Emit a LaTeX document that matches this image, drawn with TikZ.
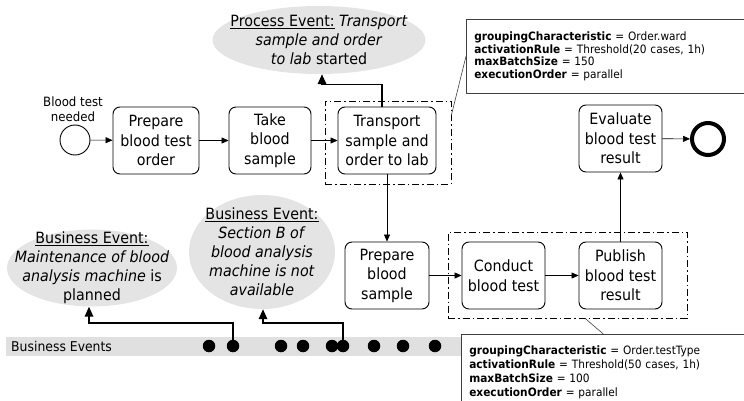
\documentclass[tikz,border=0pt]{standalone}
\usepackage{fontspec}
\setmainfont{DejaVu Sans}[FakeStretch=0.92]
\usetikzlibrary{shapes,arrows.meta}

\definecolor{evgray}{HTML}{E4E4E4}
\definecolor{bandgray}{HTML}{E0E0E0}

\tikzset{
  task/.style={shape=rectangle,rounded corners=7pt,draw=black,line width=0.9pt,align=center,minimum width=83pt,minimum height=67pt,inner sep=1pt,font=\fontsize{15.5}{19.5}\selectfont},
  batch/.style={shape=rectangle,draw=black,line width=0.6pt,dash pattern=on 7pt off 3pt on 1.5pt off 3pt},
  evnt/.style={shape=ellipse,fill=evgray,align=center,inner xsep=-60pt,inner ysep=-40pt,font=\fontsize{15.5}{19}\selectfont},
  note/.style={shape=rectangle,draw=black!75,line width=0.6pt,align=left,anchor=north west,text width=268pt,inner xsep=8pt,font=\fontsize{11.5}{12.4}\selectfont},
  occur/.style={shape=circle,fill=black,minimum size=12.5pt,inner sep=0pt},
  flow/.style={-{Triangle[length=7pt,width=6pt]},line width=0.6pt},
  trigger/.style={-{Triangle[length=10pt,width=8.5pt]},line width=1.7pt},
}

\begin{document}
\begin{tikzpicture}[x=1pt,y=-1pt]
\useasboundingbox (0,0) rectangle (744,401);

\fill[bandgray] (6,337) rectangle (462,356);
\node[anchor=west,inner sep=0pt,font=\fontsize{13.5}{15}\selectfont] (bandlbl) at (11,346.5) {Business Events};

\node[shape=circle,draw=black,line width=0.9pt,minimum size=30pt,inner sep=0pt] (start) at (75,140) {};
\node[align=center,inner sep=0pt,font=\fontsize{12.8}{15}\selectfont] (startlbl) at (73,109) {Blood test\\needed};

\node[task,minimum width=86pt] (prep) at (156,140.5) {Prepare\\blood test\\order};
\node[task,minimum width=82pt] (take) at (270,140.5) {Take\\blood\\sample};
\node[task,minimum width=98pt] (trans) at (387,140.5) {Transport\\sample and\\order to lab};
\node[batch,minimum width=126pt,minimum height=83pt] (batch1) at (388,142.5) {};

\node[task] (eval) at (620.5,138.5) {Evaluate\\blood test\\result};
\node[shape=circle,draw=black,line width=4pt,minimum size=32pt,inner sep=0pt] (end) at (708,139) {};

\node[task,minimum width=84pt] (prepsample) at (387,275.5) {Prepare\\blood\\sample};
\node[task] (conduct) at (503.5,275.5) {Conduct\\blood test};
\node[task] (publish) at (620.5,275.5) {Publish\\blood test\\result};
\node[batch,minimum width=239pt,minimum height=86pt] (batch2) at (567.5,275) {};

\node[evnt,minimum width=213pt,minimum height=68pt] (procev) at (319,40) {\underline{Process Event:} \textit{Transport}\\\textit{sample and order}\\\textit{to lab} started};
\node[evnt,minimum width=170pt,minimum height=77pt] (bev1) at (92,268) {\underline{Business Event:}\\\textit{Maintenance of blood}\\\textit{analysis machine} is\\planned};
\node[evnt,minimum width=146pt,minimum height=114pt] (bev2) at (262,252) {\underline{Business Event:}\\\textit{Section B of}\\\textit{blood analysis}\\\textit{machine is not}\\\textit{available}};

\node[note,minimum height=74pt] (note1) at (466,19) {\textbf{groupingCharacteristic} = Order.ward\\\textbf{activationRule} = Threshold(20 cases, 1h)\\\textbf{maxBatchSize} = 150\\\textbf{executionOrder} = parallel};
\node[note,inner ysep=11pt,font=\fontsize{11.5}{14.3}\selectfont] (note2) at (461,334) {\textbf{groupingCharacteristic} = Order.testType\\\textbf{activationRule} = Threshold(50 cases, 1h)\\\textbf{maxBatchSize} = 100\\\textbf{executionOrder} = parallel};

\node[occur] (o1) at (209,346) {};
\node[occur] (o2) at (233,346) {};
\node[occur] (o3) at (281,346) {};
\node[occur] (o4) at (303,346) {};
\node[occur] (o5) at (332,346) {};
\node[occur] (o6) at (343,346) {};
\node[occur] (o7) at (374,346) {};
\node[occur] (o8) at (403,346) {};
\node[occur] (o9) at (435,346) {};

\path [flow,draw=black] (start) edge node {} (prep);
\path [flow,draw=black] (prep) edge node {} (take);
\path [flow,draw=black] (take) edge node {} (trans);
\path [flow,draw=black] (trans) edge node {} (prepsample);
\path [flow,draw=black] (prepsample) edge node {} (conduct);
\path [flow,draw=black] (conduct) edge node {} (publish);
\path [flow,draw=black] (publish) edge node {} (eval);
\path [flow,draw=black] (eval) edge node {} (end);

\draw [trigger] ([xshift=-5pt]trans.north) -- ++(0,-22) -| ([xshift=3pt]procev.south);
\draw [trigger] (o2.center) -- ++(0,-23) -| ([xshift=-3pt]bev1.south);
\draw [trigger] (o6.center) -- ++(0,-23) -| ([xshift=1pt]bev2.south);

\draw [draw=black!75,line width=0.6pt] (note1.west) -- ([yshift=27pt]batch1.east);
\draw [draw=black!75,line width=0.6pt] (note2.north) -- ([xshift=17.5pt]batch2.south);
\end{tikzpicture}
\end{document}
